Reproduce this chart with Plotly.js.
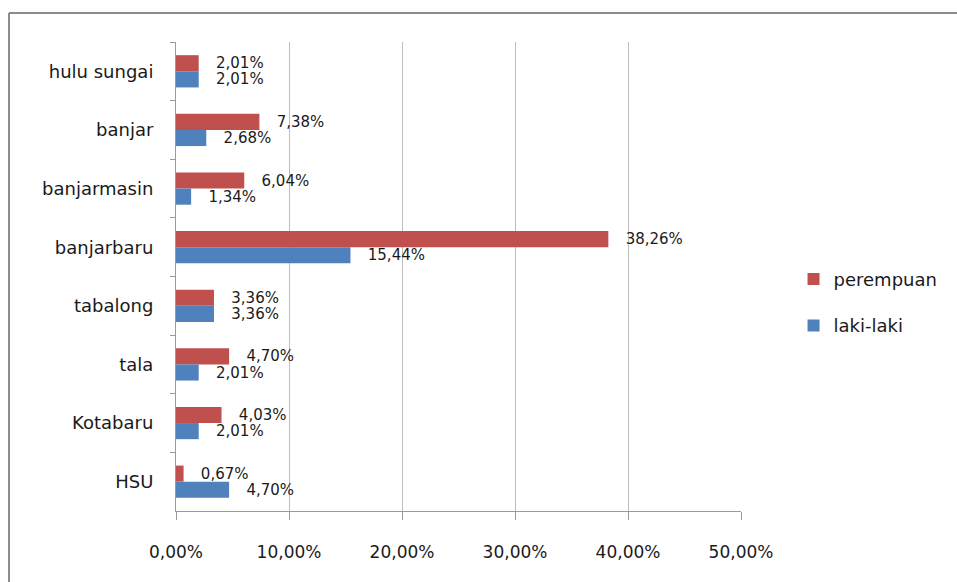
<!DOCTYPE html>
<html>
<head>
<meta charset="utf-8">
<script src="https://cdn.plot.ly/plotly-3.0.1.min.js"></script>
<style>html,body{margin:0;padding:0;background:#fff;}#chart{width:957px;height:582px;}</style>
</head>
<body>
<div id="chart"></div>
<script>
var categories = ["hulu sungai", "banjar", "banjarmasin", "banjarbaru", "tabalong", "tala", "Kotabaru", "HSU"];
var perempuan = [2.01, 7.38, 6.04, 38.26, 3.36, 4.70, 4.03, 0.67];
var lakiLaki = [2.01, 2.68, 1.34, 15.44, 3.36, 2.01, 2.01, 4.70];
var xTicks = [0, 10, 20, 30, 40, 50];
var xTickText = xTicks.map(function (v) { return v.toFixed(2).replace(".", ",") + "%"; });

var textFont = {family: "DejaVu Sans", size: 15, color: "#1a1a1a"};

var traces = [
  {
    type: "bar", orientation: "h", name: "perempuan",
    y: categories, x: perempuan,
    marker: {color: "#C0504D"},
    texttemplate: "   %{x:.2f}%", textposition: "outside",
    textfont: textFont, constraintext: "none", cliponaxis: false,
    legendgroup: "p", hoverinfo: "skip"
  },
  {
    type: "bar", orientation: "h", name: "laki-laki",
    y: categories, x: lakiLaki,
    marker: {color: "#4F81BD"},
    texttemplate: "   %{x:.2f}%", textposition: "outside",
    textfont: textFont, constraintext: "none", cliponaxis: false,
    legendgroup: "l", hoverinfo: "skip"
  }
];

var layout = {
  width: 957, height: 582,
  margin: {l: 176, r: 216, t: 42, b: 71},
  paper_bgcolor: "#ffffff", plot_bgcolor: "#ffffff",
  separators: ", ",
  barmode: "group", bargap: 0.45, bargroupgap: 0,
  showlegend: true,
  legend: {
    x: 1.093, y: 0.445, xanchor: "left", yanchor: "middle",
    traceorder: "grouped", tracegroupgap: 20,
    font: {family: "DejaVu Sans", size: 18, color: "#1a1a1a"},
    itemwidth: 30, borderwidth: 0
  },
  xaxis: {
    range: [0, 50], tickmode: "array", tickvals: xTicks, ticktext: xTickText,
    showgrid: true, gridcolor: "#BEBEBE", gridwidth: 1,
    showline: true, linecolor: "#9A9A9A", linewidth: 1,
    ticks: "outside", ticklen: 8, tickcolor: "#9A9A9A",
    zeroline: false,
    tickfont: {family: "DejaVu Sans", size: 17, color: "#1a1a1a"},
    ticklabelstandoff: 18,
    fixedrange: true
  },
  yaxis: {
    type: "category", autorange: "reversed",
    showline: true, linecolor: "#9A9A9A", linewidth: 1,
    ticks: "outside", tickson: "boundaries", ticklen: 5, tickcolor: "#9A9A9A",
    showgrid: false, zeroline: false,
    tickfont: {family: "DejaVu Sans", size: 18, color: "#1a1a1a"},
    ticklabelstandoff: 18,
    fixedrange: true
  },
  shapes: [
    {type: "line", xref: "paper", yref: "paper", x0: -0.2956, x1: 1.39, y0: 1.0618, y1: 1.0618, line: {color: "#8C8C8C", width: 2}},
    {type: "line", xref: "paper", yref: "paper", x0: -0.2956, x1: -0.2956, y0: 1.0618, y1: -0.16, line: {color: "#8C8C8C", width: 2}}
  ]
};

Plotly.newPlot("chart", traces, layout, {displayModeBar: false, staticPlot: true});
</script>
</body>
</html>
